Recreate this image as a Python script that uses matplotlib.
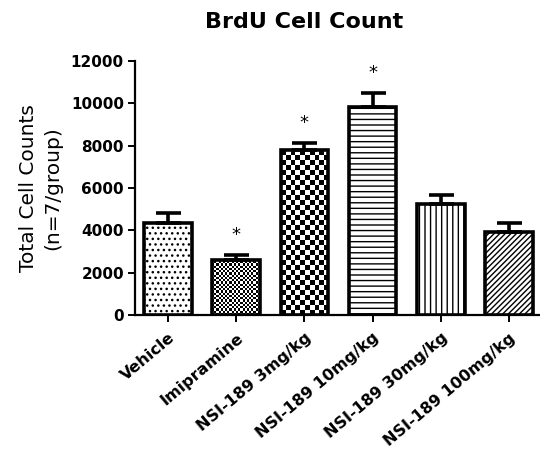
import numpy as np
import matplotlib
matplotlib.use("Agg")
import matplotlib.pyplot as plt

plt.rcParams['font.family'] = ['DejaVu Sans']
plt.rcParams['hatch.linewidth'] = 1.0

groups = ["Vehicle", "Imipramine", "NSI-189 3mg/kg", "NSI-189 10mg/kg",
          "NSI-189 30mg/kg", "NSI-189 100mg/kg"]
means = [4350, 2620, 7780, 9850, 5250, 3920]
sems = [450, 200, 330, 650, 420, 440]
significant = [False, True, True, True, False, False]
y_ticks = [0, 2000, 4000, 6000, 8000, 10000, 12000]

# hatch per bar; None -> checkerboard with given cell size (px)
hatches = ["...", None, None, "---", "|||", "//////"]
checker_px = [None, 2.2, 5.0, None, None, None]

fig = plt.figure(figsize=(5.4, 4.59), dpi=100)
ax = fig.add_axes([0.25, 0.3137, 0.75, 0.5534])

x = np.arange(len(groups))
width = 0.7
ax.set_xlim(-0.484, 5.455)
ax.set_ylim(0, 12000)

bars = ax.bar(x, means, width, color="white", edgecolor="black",
              linewidth=2.6, zorder=3)
for b, h in zip(bars, hatches):
    if h:
        b.set_hatch(h)

# checkerboard fills clipped to the bar shape
fig.canvas.draw()
for b, cell in zip(bars, checker_px):
    if cell is None:
        continue
    x0, y0 = b.get_x(), 0
    x1, y1 = b.get_x() + b.get_width(), b.get_height()
    p0 = ax.transData.transform((x0, y0))
    p1 = ax.transData.transform((x1, y1))
    nx = max(1, int(round((p1[0] - p0[0]) / cell)))
    ny = max(1, int(round((p1[1] - p0[1]) / cell)))
    board = (np.add.outer(np.arange(ny), np.arange(nx)) % 2).astype(float)
    im = ax.imshow(board, cmap="gray", extent=(x0, x1, y0, y1),
                   interpolation="nearest", aspect="auto", zorder=2.5)
    im.set_clip_path(b)
    b.set_facecolor("none")

ax.errorbar(x, means, yerr=[np.zeros(len(sems)), sems], fmt="none",
            ecolor="black", elinewidth=2.6, capsize=9, capthick=2.6, zorder=4)

for xi, m, s, sig in zip(x, means, sems, significant):
    if sig:
        ax.text(xi, m + s + 950, "*", ha="center", va="center",
                fontsize=13)

for sp in ["top", "right"]:
    ax.spines[sp].set_visible(False)
for sp in ["left", "bottom"]:
    ax.spines[sp].set_linewidth(1.6)

ax.set_yticks(y_ticks)
ax.set_yticklabels([str(t) for t in y_ticks], fontsize=11, fontweight="bold")
ax.set_xticks(x)
ax.set_xticklabels(groups, rotation=40, ha="right", rotation_mode="anchor",
                   fontsize=11.5, fontweight="bold")
ax.tick_params(axis="both", width=1.4, length=5)
ax.tick_params(axis="x", pad=6)
ax.tick_params(axis="y", pad=3)

ax.set_ylabel("Total Cell Counts\n(n=7/group)", fontsize=14.5, labelpad=6,
              linespacing=1.35)

fig.text(304 / 540, 1 - 22 / 459, "BrdU Cell Count", ha="center", va="center",
         fontsize=16, fontweight="bold")

fig.savefig("out.png", dpi=100)
